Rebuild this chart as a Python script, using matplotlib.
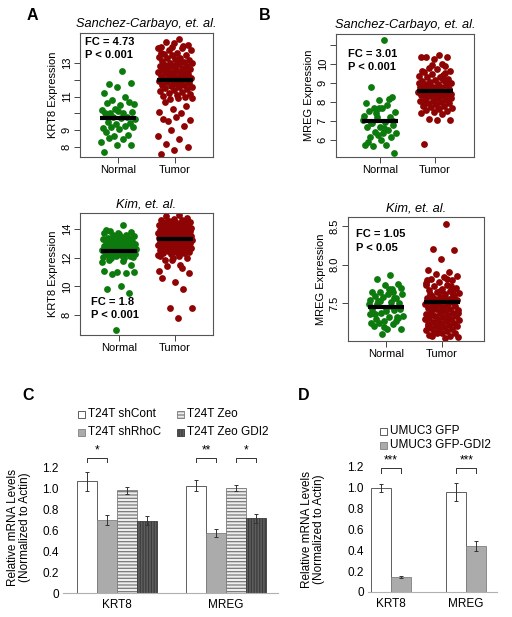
import numpy as np
import matplotlib
matplotlib.use('Agg')
import matplotlib.pyplot as plt
from matplotlib.patches import Rectangle

plt.rcParams['font.family'] = ['Liberation Sans', 'DejaVu Sans']
plt.rcParams['hatch.linewidth'] = 0.9

# ---------------- dados ----------------
grupos = ['Normal', 'Tumor']

# A - Sanchez-Carbayo, KRT8
sc_krt8_normal = [12.52, 11.73, 11.79, 11.55, 11.23, 10.99, 10.80, 10.56, 10.50, 10.64,
                  10.70, 10.24, 10.20, 10.00, 10.04, 10.10, 10.14, 10.04, 9.77, 9.77,
                  9.65, 9.71, 9.51, 9.41, 9.37, 9.11, 9.25, 9.21, 9.17, 9.05,
                  8.91, 8.71, 8.65, 8.32, 8.46, 8.52, 8.12, 8.12, 7.67]
sc_krt8_tumor = [14.41, 14.25, 14.1, 14.18, 13.96, 13.88, 13.8, 13.75, 13.62, 13.55,
                 13.5, 13.45, 13.38, 13.3, 13.28, 13.2, 13.25, 13.12, 13.08, 13.02,
                 12.98, 12.95, 12.9, 12.85, 12.82, 12.8, 12.72, 12.68, 12.65, 12.6,
                 12.58, 12.52, 12.48, 12.45, 12.4, 12.38, 12.32, 12.3, 12.25, 12.2,
                 12.18, 12.12, 12.1, 12.05, 12.02, 11.95, 11.92, 11.88, 11.85, 11.8,
                 11.75, 11.72, 11.68, 11.62, 11.58, 11.55, 11.5, 11.45, 11.4, 11.35,
                 11.3, 11.22, 11.18, 11.1, 11.05, 11.0, 13.95, 13.88, 13.05, 12.62,
                 11.98, 12.88, 13.6, 14.0, 10.84, 10.90, 10.94, 10.70, 10.44, 10.24,
                 10.10, 10.0, 9.57, 9.61, 9.77, 9.65, 9.25, 9.01, 8.65, 8.46,
                 8.16, 7.98, 7.82, 7.58]
sc_krt8_medias = [9.74, 11.99]

# A - Kim, KRT8
kim_krt8_normal = [14.28, 13.85, 13.8, 13.75, 13.7, 13.6, 13.55, 13.52, 13.45, 13.4,
                   13.38, 13.35, 13.28, 13.25, 13.2, 13.15, 13.12, 13.08, 13.05, 13.0,
                   12.98, 12.95, 12.92, 12.9, 12.85, 12.82, 12.8, 12.75, 12.72, 12.7,
                   12.65, 12.62, 12.6, 12.55, 12.52, 12.5, 12.42, 12.4, 12.38, 12.35,
                   12.3, 12.28, 12.22, 12.2, 12.15, 12.1, 12.05, 12.0, 11.98, 12.02,
                   13.62, 13.9, 13.32, 12.88, 12.6, 11.75, 11.86, 11.52, 11.0, 11.06,
                   10.94, 10.83, 10.99, 10.02, 9.79, 9.52, 6.95, 11.7]
kim_krt8_tumor = [14.95, 14.88, 14.75, 14.7, 14.65, 14.6, 14.55, 14.5, 14.45, 14.42,
                  14.4, 14.35, 14.3, 14.28, 14.25, 14.2, 14.18, 14.15, 14.1, 14.08,
                  14.05, 14.02, 14.0, 13.98, 13.95, 13.92, 13.9, 13.88, 13.85, 13.82,
                  13.8, 13.78, 13.75, 13.72, 13.7, 13.68, 13.65, 13.62, 13.6, 13.58,
                  13.55, 13.52, 13.5, 13.48, 13.45, 13.42, 13.4, 13.38, 13.35, 13.32,
                  13.3, 13.28, 13.25, 13.22, 13.2, 13.18, 13.15, 13.12, 13.1, 13.08,
                  13.05, 13.02, 13.0, 12.98, 12.95, 12.92, 12.9, 12.88, 12.85, 12.82,
                  12.8, 12.78, 12.75, 12.72, 12.7, 12.68, 12.65, 12.6, 12.58, 12.55,
                  12.52, 12.48, 12.45, 12.4, 12.38, 12.32, 12.3, 12.25, 12.2, 12.15,
                  14.52, 14.62, 13.65, 13.95, 14.12, 13.78, 13.55, 13.25, 14.35, 12.9,
                  11.86, 11.06, 11.52, 11.4, 10.94, 10.30, 10.6, 9.79, 8.46, 8.46,
                  7.77, 11.86, 12.0, 12.0, 12.1, 11.3]
kim_krt8_medias = [12.48, 13.31]

# B - Sanchez-Carbayo, MREG
sc_mreg_normal = [11.24, 8.79, 8.27, 8.09, 7.92, 7.83, 7.66, 7.48, 7.66, 7.52,
                  7.22, 7.19, 7.26, 6.96, 6.87, 6.79, 6.70, 6.70, 6.52, 6.44,
                  6.35, 6.38, 6.14, 6.17, 6.26, 5.74, 5.74, 5.69, 5.34, 6.0,
                  5.91, 8.15, 7.40, 7.05, 6.62, 6.9, 7.0, 7.7]
sc_mreg_tumor = [10.45, 10.36, 10.33, 10.22, 10.36, 10.0, 9.75, 9.62, 9.7, 9.55,
                 9.5, 9.45, 9.35, 9.3, 9.28, 9.2, 9.15, 9.1, 9.12, 9.02,
                 8.98, 8.95, 8.9, 8.88, 8.8, 8.78, 8.75, 8.7, 8.68, 8.65,
                 8.6, 8.55, 8.55, 8.5, 8.48, 8.42, 8.4, 8.38, 8.35, 8.3,
                 8.28, 8.22, 8.2, 8.15, 8.12, 8.05, 8.02, 8.0, 7.95, 7.92,
                 7.88, 7.8, 7.78, 7.72, 7.65, 7.6, 7.58, 7.5, 7.45, 7.4,
                 7.38, 7.08, 7.05, 7.05, 5.79, 9.85, 9.92, 9.0, 8.7, 8.92,
                 8.6, 8.18, 9.62, 9.4, 8.85, 8.42, 7.7, 7.95, 9.05, 8.55]
sc_mreg_medias = [7.01, 8.58]

# B - Kim, MREG
kim_mreg_normal = [7.87, 7.81, 7.75, 7.74, 7.64, 7.64, 7.65, 7.70, 7.62, 7.59,
                   7.57, 7.58, 7.54, 7.52, 7.53, 7.42, 7.40, 7.38, 7.41, 7.38,
                   7.34, 7.32, 7.29, 7.31, 7.27, 7.25, 7.23, 7.24, 7.17, 7.17,
                   7.21, 7.27, 7.10, 7.49, 7.47, 7.49, 7.50, 7.44, 7.42, 7.57,
                   7.53, 7.62, 7.68, 7.36, 7.32, 7.19, 7.36, 7.68]
kim_mreg_tumor = [8.53, 8.21, 8.19, 8.08,
                  7.93, 7.9, 7.88, 7.86, 7.84, 7.82, 7.8, 7.78, 7.76, 7.74,
                  7.72, 7.7, 7.69, 7.67, 7.66, 7.64, 7.63, 7.62, 7.6, 7.59,
                  7.58, 7.57, 7.56, 7.55, 7.54, 7.53, 7.52, 7.51, 7.5, 7.49,
                  7.48, 7.47, 7.46, 7.45, 7.44, 7.43, 7.42, 7.41, 7.4, 7.39,
                  7.38, 7.37, 7.36, 7.35, 7.34, 7.33, 7.32, 7.31, 7.3, 7.29,
                  7.28, 7.27, 7.26, 7.25, 7.24, 7.23, 7.22, 7.21, 7.2, 7.19,
                  7.18, 7.17, 7.16, 7.15, 7.14, 7.13, 7.12, 7.11, 7.09, 7.08,
                  7.12, 7.06, 7.05, 7.07, 7.6, 7.66, 7.8, 7.52, 7.45, 7.35,
                  7.42, 7.62, 7.72, 7.5, 7.3, 7.28, 7.55, 7.68, 7.4, 7.2,
                  7.52, 7.46, 7.38, 7.56, 7.36, 7.62, 7.24, 7.74, 7.82, 7.44]
kim_mreg_medias = [7.45, 7.52]

# C - qPCR T24T
c_genes = ['KRT8', 'MREG']
c_series = ['T24T shCont', 'T24T shRhoC', 'T24T Zeo', 'T24T Zeo GDI2']
c_valores = [[1.07, 1.03], [0.70, 0.575], [0.985, 1.005], [0.695, 0.715]]
c_erros = [[0.09, 0.05], [0.05, 0.04], [0.035, 0.03], [0.045, 0.04]]
c_sig = [('*', 0, 0, 1), ('**', 1, 0, 1), ('*', 1, 2, 3)]

# D - qPCR UMUC3
d_genes = ['KRT8', 'MREG']
d_series = ['UMUC3 GFP', 'UMUC3 GFP-GDI2']
d_valores = [[1.0, 0.96], [0.143, 0.44]]
d_erros = [[0.04, 0.09], [0.012, 0.045]]
d_sig = [('***', 0, 0, 1), ('***', 1, 0, 1)]

yticks_barras = [0, 0.2, 0.4, 0.6, 0.8, 1.0, 1.2]
yticks_barras_txt = ['0', '0.2', '0.4', '0.6', '0.8', '1.0', '1.2']

# ---------------- figura ----------------
W, H = 512, 617
fig = plt.figure(figsize=(W / 100, H / 100), dpi=100)

VERDE = '#0d7a0d'
VERMELHO = '#8e0303'


def eixo(l, t, r, b):
    """Cria eixos a partir de coordenadas em pixels (origem no topo)."""
    return fig.add_axes([l / W, 1 - b / H, (r - l) / W, (b - t) / H])


def strip(ax, normal, tumor, medias, ylim, yticks, ylabels, xlim, titulo, fc, fc_xy, ylabel):
    for k, (vals, cor) in enumerate([(normal, VERDE), (tumor, VERMELHO)]):
        vals = np.asarray(vals)
        jit = ((np.arange(len(vals)) + 1) * 0.6180339887) % 1 - 0.5
        ax.scatter(k + 1 + jit * 0.62, vals, s=24, color=cor, lw=0, zorder=2)
        ax.plot([k + 1 - 0.32, k + 1 + 0.32], [medias[k]] * 2, color='k', lw=3,
                solid_capstyle='butt', zorder=3)
    ax.set_xlim(*xlim)
    ax.set_ylim(*ylim)
    ax.set_xticks([1, 2])
    ax.set_xticklabels(grupos, fontsize=8)
    ax.set_yticks(yticks)
    ax.set_yticklabels(ylabels, rotation=90, va='center', fontsize=8)
    ax.tick_params(direction='out', length=4, width=0.7, pad=2, color='#444')
    for s in ax.spines.values():
        s.set_color('#555')
        s.set_linewidth(0.8)
    ax.set_title(titulo, fontsize=9.2, style='italic', pad=4)
    ax.set_ylabel(ylabel, fontsize=8, labelpad=3)
    ax.text(fc_xy[0], fc_xy[1], fc, transform=ax.transAxes, fontsize=8,
            fontweight='bold', va='top', ha='left', linespacing=1.4)


ax = eixo(80, 33, 213, 157)
strip(ax, sc_krt8_normal, sc_krt8_tumor, sc_krt8_medias, (7.4, 14.79),
      [8, 9, 10, 11, 12, 13], ['8', '9', '', '11', '', '13'], (0.333, 2.667),
      'Sanchez-Carbayo, et. al.', 'FC = 4.73\nP < 0.001', (0.04, 0.97), 'KRT8 Expression')

ax = eixo(80, 213, 213, 335)
strip(ax, kim_krt8_normal, kim_krt8_tumor, kim_krt8_medias, (6.6, 15.12),
      [8, 10, 12, 14], ['8', '10', '12', '14'], (0.31, 2.68),
      'Kim, et. al.', 'FC = 1.8\nP < 0.001', (0.08, 0.31), 'KRT8 Expression')

ax = eixo(336, 34, 474, 157)
strip(ax, sc_mreg_normal, sc_mreg_tumor, sc_mreg_medias, (5.11, 11.55),
      [6, 7, 8, 9, 10, 11], ['6', '7', '8', '9', '10', ''], (0.2, 2.71),
      'Sanchez-Carbayo, et. al.', 'FC = 3.01\nP < 0.001', (0.09, 0.88), 'MREG Expression')

ax = eixo(348, 217, 484, 341)
strip(ax, kim_mreg_normal, kim_mreg_tumor, kim_mreg_medias, (7.01, 8.62),
      [7.5, 8.0, 8.5], ['7.5', '8.0', '8.5'], (0.32, 2.75),
      'Kim, et. al.', 'FC = 1.05\nP < 0.05', (0.06, 0.9), 'MREG Expression')

# estilos das barras
estilo_c = [dict(color='white', edgecolor='#444'),
            dict(color='#ababab', edgecolor='#808080'),
            dict(color='#eeeeee', edgecolor='#7a7a7a', hatch='-----'),
            dict(color='#5e5e5e', edgecolor='#3c3c3c', hatch='||||||')]
estilo_d = [dict(color='white', edgecolor='#444'),
            dict(color='#ababab', edgecolor='#808080')]


def barras(ax, genes, valores, erros, estilos, largura, sig, sig_y, xlim, ylim):
    n = len(valores)
    x = np.arange(len(genes))
    for i in range(n):
        pos = x + (i - (n - 1) / 2) * largura
        est = dict(estilos[i])
        fc = est.pop('color')
        ax.bar(pos, valores[i], largura, facecolor=fc, linewidth=0.6, zorder=2, **est)
        ax.errorbar(pos, valores[i], yerr=erros[i], fmt='none', ecolor='#333',
                    elinewidth=0.7, capsize=1.6, capthick=0.7, zorder=3)
    yb, yp, ys = sig_y
    for txt, g, a, b in sig:
        xa = g + (a - (n - 1) / 2) * largura
        xb = g + (b - (n - 1) / 2) * largura
        ax.plot([xa, xa, xb, xb], [yp, yb, yb, yp], color='#333', lw=0.7, clip_on=False)
        ax.text((xa + xb) / 2, ys, txt, ha='center', va='center', fontsize=8.5)
    ax.set_xlim(*xlim)
    ax.set_ylim(*ylim)
    ax.set_xticks(x)
    ax.set_xticklabels(genes, fontsize=8.5)
    ax.set_yticks(yticks_barras)
    ax.set_yticklabels(yticks_barras_txt, fontsize=8.5)
    ax.tick_params(length=0, pad=4)
    ax.tick_params(axis='y', pad=3)
    for lado in ['left', 'right', 'top']:
        ax.spines[lado].set_visible(False)
    ax.spines['bottom'].set_color('#b0b0b0')
    ax.spines['bottom'].set_linewidth(0.8)


ax = eixo(63, 440, 278, 593)
barras(ax, c_genes, c_valores, c_erros, estilo_c, 0.183, c_sig, (1.30, 1.26, 1.37),
       (-0.495, 1.477), (0, 1.468))

ax = eixo(368, 440, 497, 592)
barras(ax, d_genes, d_valores, d_erros, estilo_d, 0.27, d_sig, (1.19, 1.14, 1.26),
       (-0.307, 1.41), (0, 1.459))


# legendas desenhadas à mão (posições em pixels)
def item_legenda(x, y, txt, est):
    est = dict(est)
    fc = est.pop('color')
    fig.patches.append(Rectangle((x / W, 1 - (y + 3.5) / H), 7 / W, 7 / H, facecolor=fc,
                                 linewidth=0.6, transform=fig.transFigure, **est))
    fig.text((x + 10) / W, 1 - y / H, txt, fontsize=8.5, va='center', ha='left')


for i, (px, py) in enumerate([(78, 414), (78, 432), (177, 414), (177, 432)]):
    item_legenda(px, py, c_series[i], estilo_c[i])
for i, (px, py) in enumerate([(380, 431), (380, 445)]):
    item_legenda(px, py, d_series[i], estilo_d[i])

rotulo = 'Relative mRNA Levels\n(Normalized to Actin)'
fig.text(19 / W, 1 - 527 / H, rotulo, rotation=90, ha='center', va='center',
         fontsize=8.5, multialignment='center', linespacing=1.1)
fig.text(313 / W, 1 - 529 / H, rotulo, rotation=90, ha='center', va='center',
         fontsize=8.5, multialignment='center', linespacing=1.1)

for letra, (px, py) in zip('ABCD', [(32, 15), (265, 15), (28, 395), (304, 395)]):
    fig.text(px / W, 1 - py / H, letra, fontsize=11.5, fontweight='bold',
             ha='center', va='center')

fig.savefig('out.png', dpi=100)
